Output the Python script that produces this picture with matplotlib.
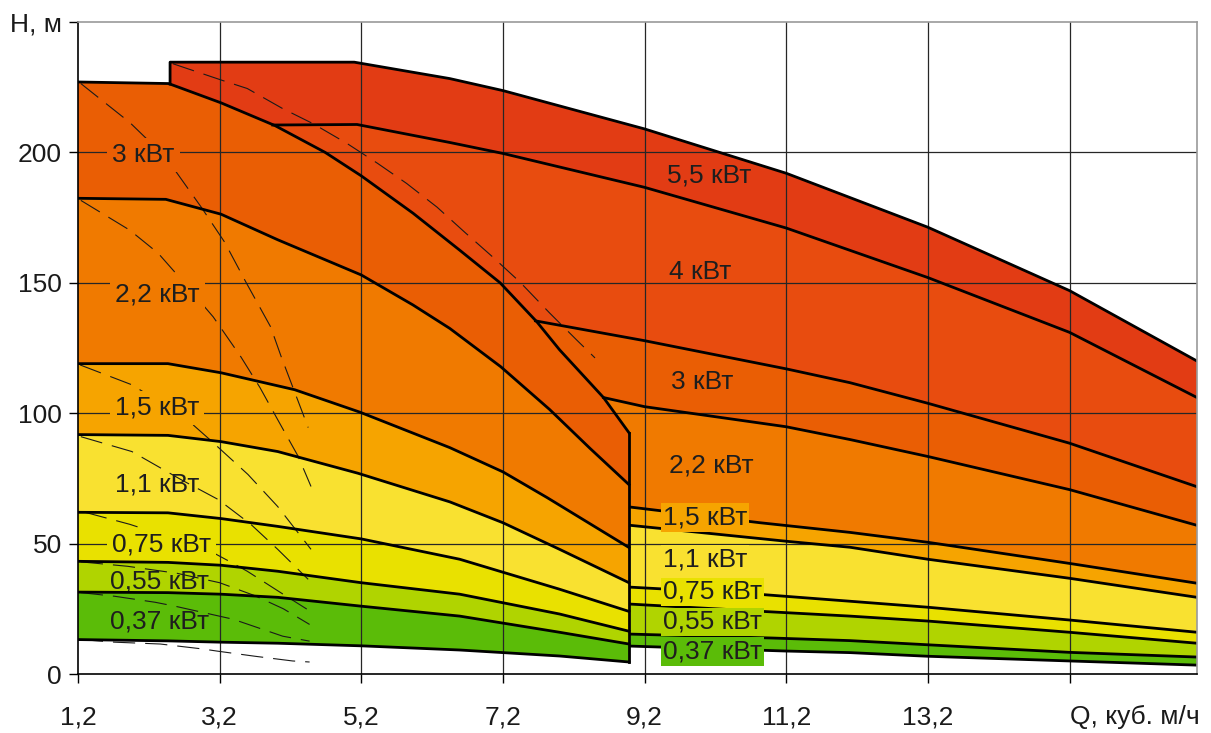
import numpy as np
import matplotlib
matplotlib.use('Agg')
import matplotlib.pyplot as plt

plt.rcParams['font.family'] = ['Liberation Sans', 'DejaVu Sans']

# ---------------- data ----------------
# left pump family (Q up to ~9), boundary lines from bottom to top
L0_Q = [1.2, 2.47, 3.22, 4.02, 5.2, 6.59, 8.0, 8.98]
L0_H = [13.2, 12.7, 12.2, 11.8, 10.8, 9.2, 6.9, 4.6]
L1_Q = [1.2, 2.47, 3.22, 4.02, 5.2, 6.59, 8.0, 8.98]
L1_H = [31.4, 31.2, 30.6, 29.4, 26.0, 22.2, 16.0, 11.5]
L2_Q = [1.2, 2.47, 3.22, 4.02, 5.2, 6.59, 8.0, 8.98]
L2_H = [43.2, 42.8, 41.7, 39.4, 35.0, 30.6, 23.0, 16.4]
L3_Q = [1.2, 2.47, 3.22, 4.02, 5.2, 6.59, 8.0, 8.98]
L3_H = [62.0, 61.8, 59.6, 56.6, 51.8, 44.0, 32.5, 24.0]
L4_Q = [1.2, 2.47, 3.22, 4.02, 5.15, 6.45, 7.2, 8.0, 8.98]
L4_H = [91.8, 91.5, 89.1, 85.3, 77.0, 66.0, 58.0, 47.8, 35.0]
L5_Q = [1.2, 2.47, 3.22, 4.26, 5.18, 6.45, 7.2, 7.82, 8.98]
L5_H = [119.0, 119.0, 115.5, 109.0, 100.4, 86.8, 77.5, 67.7, 48.5]
L6_Q = [1.2, 2.44, 3.22, 4.02, 5.2, 5.93, 6.45, 7.17, 7.86, 8.43, 8.98]
L6_H = [182.4, 182.0, 176.3, 166.5, 153.0, 141.5, 132.5, 117.8, 101.4, 86.5, 72.6]
L7_Q = [1.2, 2.48, 3.22, 3.98, 4.69, 5.2, 5.93, 6.59, 7.16, 7.68, 8.0, 8.62, 8.98]
L7_H = [227.0, 226.4, 219.0, 210.3, 200.0, 191.0, 176.7, 162.5, 150.0, 135.0, 124.3, 106.0, 92.5]

# right pump family (Q up to 17), boundary lines from bottom to top
R0_Q = [9.0, 11.2, 12.1, 13.2, 15.2, 17.0]
R0_H = [10.7, 8.8, 8.2, 6.8, 5.0, 3.4]
R1_Q = [9.0, 11.0, 12.1, 13.2, 15.2, 17.0]
R1_H = [15.3, 13.8, 12.8, 11.2, 8.3, 6.5]
R2_Q = [9.0, 10.8, 12.1, 13.2, 15.2, 17.0]
R2_H = [26.8, 24.1, 22.2, 20.3, 16.0, 11.8]
R3_Q = [9.0, 10.8, 12.1, 13.2, 15.2, 17.0]
R3_H = [33.3, 30.6, 27.9, 25.6, 20.7, 16.0]
R4_Q = [9.0, 11.2, 12.1, 13.2, 15.2, 17.0]
R4_H = [57.0, 50.9, 48.6, 44.0, 36.7, 29.4]
R5_Q = [9.0, 10.83, 12.1, 13.2, 15.2, 17.0]
R5_H = [64.0, 58.0, 54.3, 50.5, 42.4, 34.8]
R6_Q = [8.62, 9.2, 11.2, 12.1, 13.2, 15.2, 17.0]
R6_H = [106.0, 102.5, 94.8, 89.9, 83.4, 70.7, 57.0]
R7_Q = [7.66, 9.2, 11.2, 12.1, 13.2, 15.2, 17.0]
R7_H = [135.4, 127.8, 117.0, 111.7, 103.8, 88.5, 71.8]
R8_Q = [3.95, 5.14, 6.45, 7.2, 9.2, 11.2, 13.2, 15.2, 17.0]
R8_H = [210.5, 210.7, 203.8, 199.6, 186.6, 171.0, 152.0, 131.0, 106.0]
R9_Q = [2.5, 5.1, 6.45, 7.2, 9.2, 11.2, 13.2, 15.2, 17.0]
R9_H = [234.6, 234.6, 228.3, 223.7, 209.0, 192.0, 171.3, 147.0, 120.0]

# dashed pump curves
D0_Q = [1.24, 1.72, 2.36, 2.96, 3.16, 3.7, 4.23, 4.47]
D0_H = [13.2, 12.2, 11.5, 9.6, 8.8, 6.8, 5.0, 4.6]
D1_Q = [1.24, 1.72, 2.29, 2.57, 3.39, 3.67, 4.09, 4.47]
D1_H = [31.2, 29.8, 27.5, 26.0, 21.0, 18.4, 14.5, 12.6]
D2_Q = [1.24, 1.9, 2.6, 3.2, 3.7, 4.1, 4.47]
D2_H = [43.0, 41.3, 38.6, 35.0, 30.0, 25.0, 19.0]
D3_Q = [1.3, 1.93, 3.02, 3.35, 3.59, 4.05, 4.43]
D3_H = [62.0, 57.4, 47.8, 43.0, 39.4, 31.4, 24.9]
D4_Q = [1.24, 1.96, 2.65, 3.18, 3.64, 4.02, 4.45]
D4_H = [91.0, 85.3, 74.6, 66.9, 57.4, 47.8, 36.3]
D5_Q = [1.23, 1.96, 2.71, 3.06, 3.6, 4.02, 4.49]
D5_H = [118.5, 110.9, 98.3, 89.9, 76.5, 64.2, 47.8]
D6_Q = [1.24, 1.93, 2.33, 2.58, 3.11, 3.5, 3.77, 4.02, 4.31, 4.49]
D6_H = [181.6, 170.2, 161.4, 153.7, 136.9, 121.6, 109.8, 97.5, 83.4, 71.9]
D7_Q = [1.24, 1.93, 2.44, 2.94, 3.27, 3.57, 3.92, 4.07, 4.45]
D7_H = [226.4, 211.5, 198.1, 179.0, 165.6, 150.3, 133.1, 121.6, 94.5]
D8_Q = [2.54, 3.25, 3.59, 4.09, 4.52, 5.0, 5.43, 5.84, 6.27, 6.66, 7.06, 7.44, 7.86, 8.24, 8.5]
D8_H = [234.0, 227.5, 224.5, 216.8, 211.0, 203.4, 195.8, 188.1, 179.0, 169.4, 159.8, 150.3, 138.4, 128.1, 121.2]

# band names / colours
LEFT_NAMES = ['0,37 кВт', '0,55 кВт', '0,75 кВт', '1,1 кВт', '1,5 кВт', '2,2 кВт', '3 кВт']
RIGHT_NAMES = ['0,37 кВт', '0,55 кВт', '0,75 кВт', '1,1 кВт', '1,5 кВт', '2,2 кВт', '3 кВт', '4 кВт', '5,5 кВт']
POWER_COLORS = {'0,37 кВт': '#5bbc08', '0,55 кВт': '#b0d400', '0,75 кВт': '#e9e100',
                '1,1 кВт': '#f9e130', '1,5 кВт': '#f6a400', '2,2 кВт': '#f07a00',
                '3 кВт': '#ea5e04', '4 кВт': '#e84c0f', '5,5 кВт': '#e23c14'}

# label positions (Q, H)
LEFT_LABEL_Q = [1.65, 1.65, 1.68, 1.72, 1.72, 1.72, 1.68]
LEFT_LABEL_H = [21.0, 36.3, 50.5, 73.8, 103.0, 146.5, 200.0]
LEFT_LABEL_BOX = [False, False, True, False, True, True, True]
RIGHT_LABEL_Q = [9.46, 9.46, 9.46, 9.46, 9.46, 9.55, 9.58, 9.55, 9.51]
RIGHT_LABEL_H = [9.6, 21.0, 32.5, 45.0, 61.0, 81.0, 112.8, 155.0, 192.0]
RIGHT_LABEL_BOX = [True, True, True, True, True, False, False, False, False]

X_TICKS = [1.2, 3.2, 5.2, 7.2, 9.2, 11.2, 13.2, 15.2]
X_LABELS = ['1,2', '3,2', '5,2', '7,2', '9,2', '11,2', '13,2', 'Q, куб. м/ч']
Y_TICKS = [0, 50, 100, 150, 200, 250]
Y_LABELS = ['0', '50', '100', '150', '200', 'H, м']

# ---------------- drawing ----------------
left_lines = [(L0_Q, L0_H), (L1_Q, L1_H), (L2_Q, L2_H), (L3_Q, L3_H),
              (L4_Q, L4_H), (L5_Q, L5_H), (L6_Q, L6_H), (L7_Q, L7_H)]
right_lines = [(R0_Q, R0_H), (R1_Q, R1_H), (R2_Q, R2_H), (R3_Q, R3_H), (R4_Q, R4_H),
               (R5_Q, R5_H), (R6_Q, R6_H), (R7_Q, R7_H), (R8_Q, R8_H), (R9_Q, R9_H)]
dashed = [(D0_Q, D0_H), (D1_Q, D1_H), (D2_Q, D2_H), (D3_Q, D3_H), (D4_Q, D4_H),
          (D5_Q, D5_H), (D6_Q, D6_H), (D7_Q, D7_H), (D8_Q, D8_H)]

fig = plt.figure(figsize=(12.11, 7.33), dpi=100)
ax = fig.add_axes([78 / 1211, 59 / 733, 1119 / 1211, 652 / 733])
ax.set_xlim(1.2, 17.0)
ax.set_ylim(0, 250)

LW = 2.0

# right family bands (drawn first, the left family covers their hidden parts)
for i, name in enumerate(RIGHT_NAMES):
    lq, lh = right_lines[i]
    uq, uh = right_lines[i + 1]
    xs = list(uq) + list(lq)[::-1]
    ys = list(uh) + list(lh)[::-1]
    if uq[0] < lq[0]:
        inner = [q for q in L7_Q if uq[0] < q < lq[0]][::-1] + [uq[0]]
        xs += inner
        ys += list(np.interp(inner, L7_Q, L7_H))
    ax.fill(xs, ys, color=POWER_COLORS[name], lw=0, zorder=1.0)

# left family bands
for i, name in enumerate(LEFT_NAMES):
    lq, lh = left_lines[i]
    uq, uh = left_lines[i + 1]
    xs = list(uq) + list(lq)[::-1]
    ys = list(uh) + list(lh)[::-1]
    ax.fill(xs, ys, color=POWER_COLORS[name], lw=0, zorder=1.1)

# grid
for x in X_TICKS[1:]:
    ax.axvline(x, color='#262626', lw=0.9, zorder=1.5)
for y in Y_TICKS[1:-1]:
    ax.axhline(y, color='#262626', lw=0.9, zorder=1.5)

# dashed pump curves
for q, h in dashed:
    ax.plot(q, h, color='#1a1a1a', lw=0.8, dashes=(20, 9), zorder=1.6)

# boundary lines
for q, h in left_lines:
    ax.plot(q, h, color='black', lw=LW, zorder=2, solid_joinstyle='round')
ax.plot([L7_Q[-1], L0_Q[-1]], [L7_H[-1], L0_H[-1]], color='black', lw=LW, zorder=2)
for j, (q, h) in enumerate(right_lines):
    if j == len(right_lines) - 1:
        q = [q[0]] + list(q)
        h = [float(np.interp(q[0], L7_Q, L7_H))] + list(h)
    ax.plot(q, h, color='black', lw=LW, zorder=2, solid_joinstyle='round')

# labels
FS = 19
for name, q, h, box in zip(LEFT_NAMES, LEFT_LABEL_Q, LEFT_LABEL_H, LEFT_LABEL_BOX):
    kw = {}
    if box:
        kw['bbox'] = dict(boxstyle='square,pad=0.2', fc=POWER_COLORS[name], ec='none')
    ax.text(q, h, name, fontsize=FS, color='#1e1e1e', ha='left', va='center_baseline',
            zorder=1.7, **kw)
for name, q, h, box in zip(RIGHT_NAMES, RIGHT_LABEL_Q, RIGHT_LABEL_H, RIGHT_LABEL_BOX):
    kw = {}
    if box:
        kw['bbox'] = dict(boxstyle='square,pad=0.08', fc=POWER_COLORS[name], ec='none')
    ax.text(q, h, name, fontsize=FS, color='#1e1e1e', ha='left', va='center_baseline',
            zorder=3, **kw)

# axes styling
ax.set_xticks(X_TICKS)
ax.set_xticklabels(X_LABELS)
ax.set_yticks(Y_TICKS)
ax.set_yticklabels(Y_LABELS)
ax.get_xticklabels()[-1].set_horizontalalignment('left')
ax.tick_params(axis='both', direction='out', length=6.5, width=1.0, colors='black',
               labelsize=FS, labelcolor='#1a1a1a')
ax.tick_params(axis='x', pad=16)
ax.tick_params(axis='y', pad=5)
for s in ['left', 'bottom']:
    ax.spines[s].set_color('black')
    ax.spines[s].set_linewidth(1.2)
for s in ['top', 'right']:
    ax.spines[s].set_color('#9a9a9a')
    ax.spines[s].set_linewidth(1.2)

fig.savefig('out.png', dpi=100)
